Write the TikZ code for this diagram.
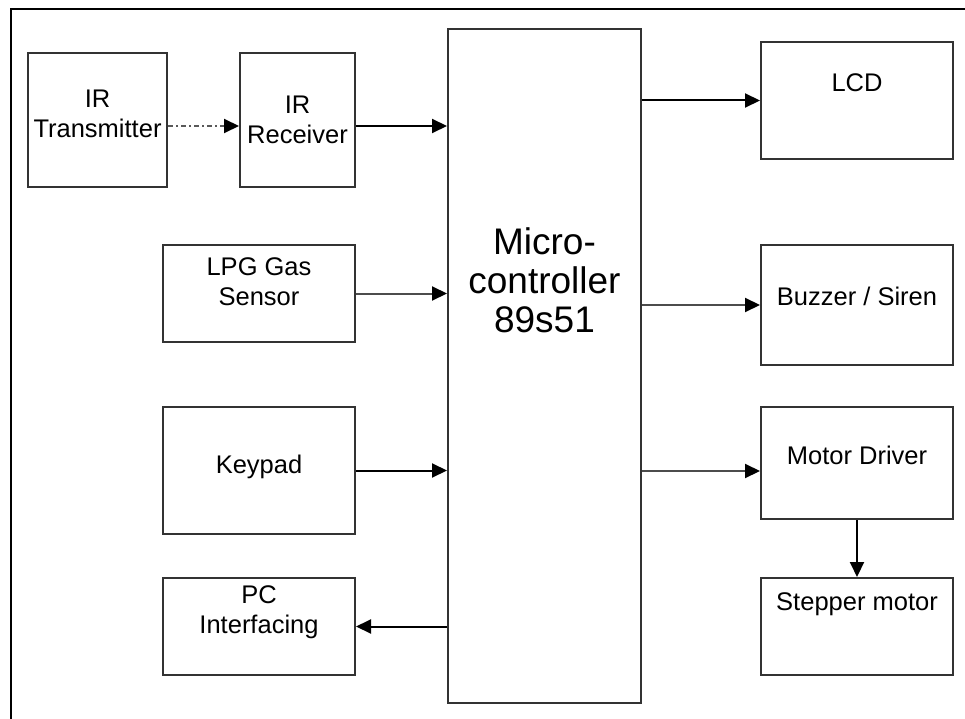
\documentclass[tikz,border=0pt]{standalone}
\usepackage{fontspec}
\setmainfont{Liberation Sans}
\usetikzlibrary{positioning,arrows.meta}

\begin{document}
\begin{tikzpicture}[
    x=1pt, y=-1pt,
    box/.style={rectangle, draw=black!80, line width=2pt, fill=white, inner sep=0pt},
    side/.style={box, minimum width=192pt},
    txt/.style={font=\fontsize{25.5}{30}\selectfont, align=center, inner sep=0pt},
    bigtxt/.style={font=\fontsize{37}{39}\selectfont, align=center, inner sep=0pt},
    arrow/.style={-{Triangle[length=15pt,width=14pt,color=black]}, line width=2pt},
    greyarrow/.style={arrow, draw=black!70},
    irlink/.style={arrow, draw=black!65, dash pattern=on 5pt off 3pt on 2pt off 3pt}
]
    \useasboundingbox (0,0) rectangle (965,719);
    % frame
    \draw [line width=2pt] (11,760) -- (11,9) -- (1000,9);

    % controller
    \node (mc) [box, minimum width=193pt, minimum height=674pt, label={[bigtxt, yshift=86pt]center:{Micro-\\controller\\89s51}}] at (544.5,366) {};

    % inputs
    \node (irtx) [box, minimum width=139pt, minimum height=134pt, label={[txt, yshift=6.5pt]center:{IR\\Transmitter}}] at (97.5,120) {};
    \node (irrx) [box, minimum width=115pt, minimum height=134pt, right=71pt of irtx, label={[txt]center:{IR\\Receiver}}] {};
    \node (lpg) [side, minimum height=97pt, below=56pt of irrx.south east, anchor=north east, label={[txt, yshift=11.5pt]center:{LPG Gas\\Sensor}}] {};
    \node (keypad) [side, minimum height=127pt, below=63pt of lpg, label={[txt, yshift=4pt]center:Keypad}] {};
    \node (pc) [side, minimum height=97pt, below=42pt of keypad, label={[txt, yshift=14pt]center:{PC\\Interfacing}}] {};

    % outputs
    \node (lcd) [side, minimum height=117pt, label={[txt, yshift=17.5pt]center:LCD}] at (857,100.5) {};
    \node (buzzer) [side, minimum height=120pt, below=84pt of lcd, label={[txt, yshift=9pt]center:Buzzer / Siren}] {};
    \node (motor) [side, minimum height=112pt, below=40pt of buzzer, label={[txt, yshift=8pt]center:Motor Driver}] {};
    \node (stepper) [side, minimum height=97pt, below=57pt of motor, label={[txt, yshift=22pt]center:Stepper motor}] {};

    \coordinate (irout) at ([yshift=-6pt]irtx.east);
    \coordinate (irin) at ([yshift=-6pt]irrx.east);
    \coordinate (motorin) at ([yshift=-8pt]motor.west);

    \draw [irlink] (irout) -- (irout -| irrx.west);
    \draw [arrow] (irin) -- (irin -| mc.west);
    \draw [greyarrow] (lpg.east) -- (lpg.east -| mc.west);
    \draw [arrow] (keypad.east) -- (keypad.east -| mc.west);
    \draw [arrow] (mc.west |- pc.east) -- (pc.east);
    \draw [arrow] (mc.east |- lcd.west) -- (lcd.west);
    \draw [greyarrow] (mc.east |- buzzer.west) -- (buzzer.west);
    \draw [greyarrow] (mc.east |- motorin) -- (motorin);
    \draw [arrow] (motor) -- (stepper);
\end{tikzpicture}
\end{document}
